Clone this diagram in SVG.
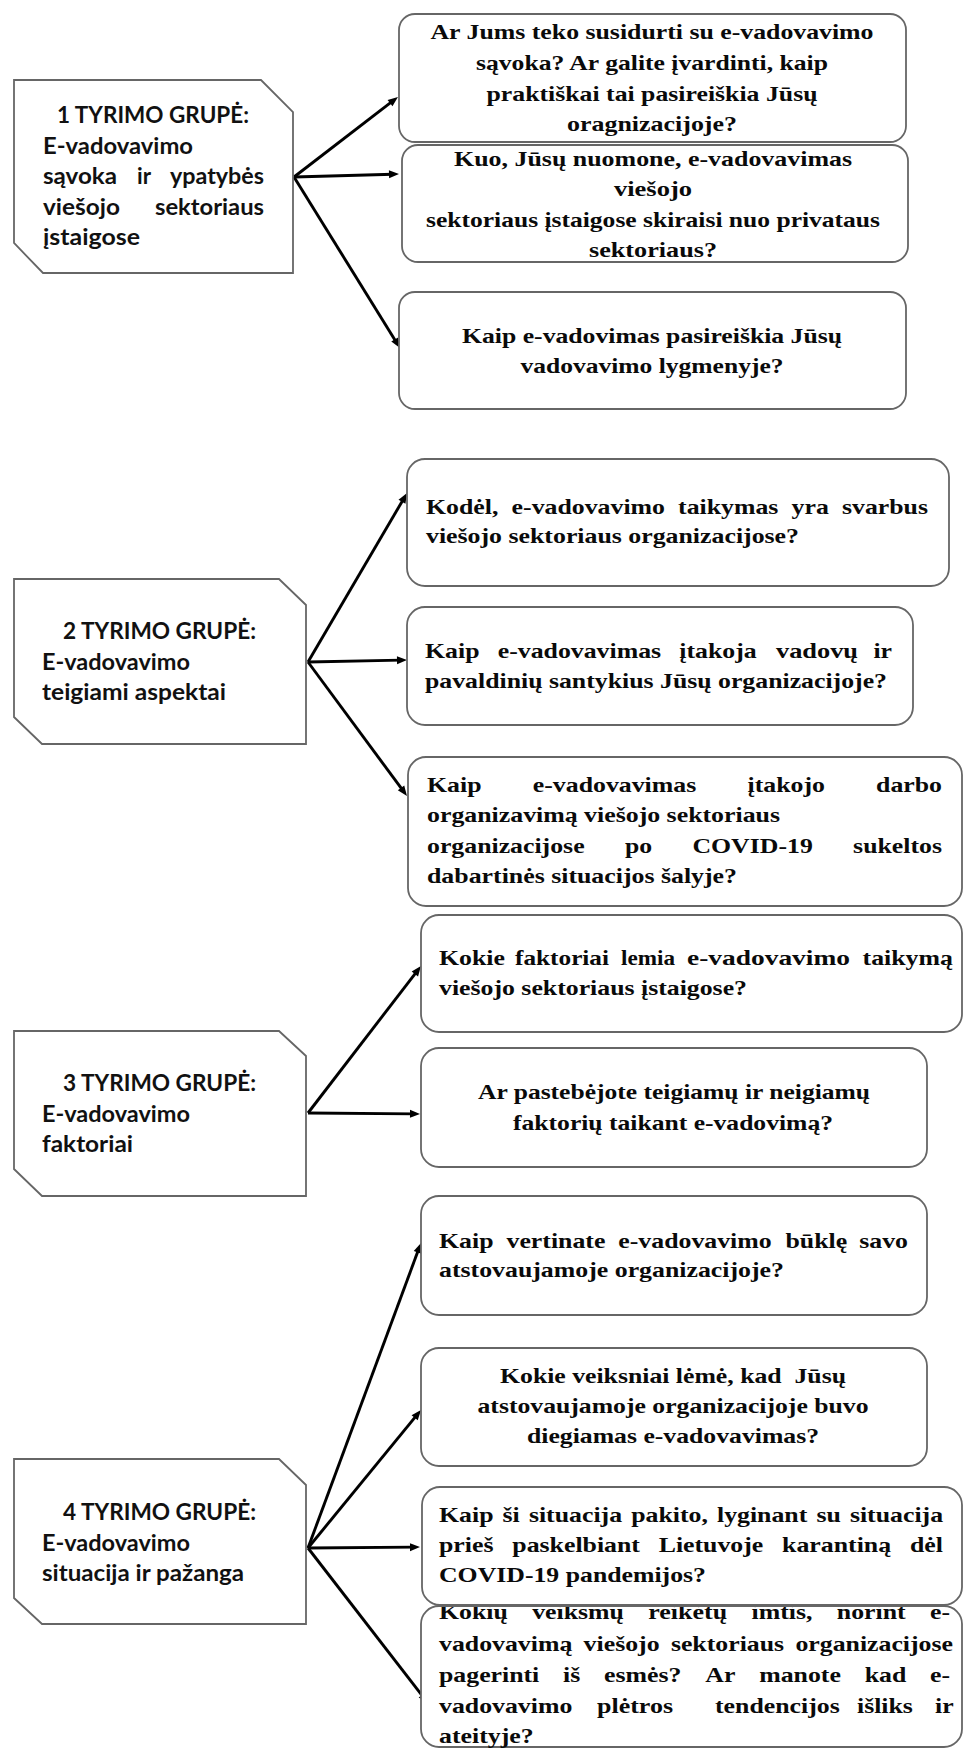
<svg xmlns="http://www.w3.org/2000/svg" width="963" height="1749" viewBox="0 0 963 1749">
<style>
.box{fill:#fff;stroke:#666;stroke-width:1.8}
.gt{font-family:Lato,"Liberation Sans",Arial,sans-serif;font-weight:bold;font-size:22px;fill:#111}
.qt{font-family:"Liberation Serif","Times New Roman",serif;font-weight:bold;font-size:21px;fill:#0a0a0a}
.m{text-anchor:middle}
.c{stroke:#000;stroke-width:2.9;fill:none;marker-end:url(#ah)}
</style>
<defs>
<marker id="ah" markerUnits="userSpaceOnUse" markerWidth="10" markerHeight="8" refX="4" refY="4" orient="auto" overflow="visible">
<path d="M0,0 L10,4 L0,8 z" fill="#000"/>
</marker>
<clipPath id="clipq12"><rect x="421" y="1607" width="541" height="142"/></clipPath>
</defs>
<rect width="963" height="1749" fill="#fff"/>

<g id="connectors">
<line class="c" x1="294" y1="177" x2="393.2" y2="100.7"/>
<line class="c" x1="294" y1="177" x2="393" y2="174.2"/>
<line class="c" x1="294" y1="177" x2="396.8" y2="342.9"/>
<line class="c" x1="308" y1="662" x2="404" y2="498.2"/>
<line class="c" x1="308" y1="662" x2="401" y2="660.1"/>
<line class="c" x1="308" y1="662" x2="403.4" y2="791.2"/>
<line class="c" x1="308" y1="1113" x2="417.3" y2="970.8"/>
<line class="c" x1="308" y1="1113" x2="414" y2="1113.9"/>
<line class="c" x1="308" y1="1548" x2="418.9" y2="1248.6"/>
<line class="c" x1="308" y1="1548" x2="417.2" y2="1414.6"/>
<line class="c" x1="308" y1="1548" x2="414" y2="1547.1"/>
<line class="c" x1="308" y1="1548" x2="424.3" y2="1698.3"/>
</g>

<g id="group1">
<polygon class="box" points="14,80 261,80 293,112 293,273 43,273 14,243"/>
<text class="gt" x="57" y="123" textLength="192" lengthAdjust="spacingAndGlyphs">1 TYRIMO GRUPĖ:</text>
<text class="gt" x="43" y="153.5" textLength="150" lengthAdjust="spacingAndGlyphs">E-vadovavimo</text>
<text class="gt" x="43" y="184" textLength="74" lengthAdjust="spacingAndGlyphs">sąvoka</text>
<text class="gt" x="137" y="184" textLength="14" lengthAdjust="spacingAndGlyphs">ir</text>
<text class="gt" x="170" y="184" textLength="94" lengthAdjust="spacingAndGlyphs">ypatybės</text>
<text class="gt" x="43" y="214.5" textLength="77" lengthAdjust="spacingAndGlyphs">viešojo</text>
<text class="gt" x="155" y="214.5" textLength="109" lengthAdjust="spacingAndGlyphs">sektoriaus</text>
<text class="gt" x="43" y="245" textLength="97" lengthAdjust="spacingAndGlyphs">įstaigose</text>
</g>

<g id="q1">
<rect class="box" x="399" y="14" width="507" height="128" rx="16"/>
<text class="qt m" x="652" y="39" textLength="443" lengthAdjust="spacingAndGlyphs">Ar Jums teko susidurti su e-vadovavimo</text>
<text class="qt m" x="652" y="70" textLength="352" lengthAdjust="spacingAndGlyphs">sąvoka? Ar galite įvardinti, kaip</text>
<text class="qt m" x="652" y="101" textLength="331" lengthAdjust="spacingAndGlyphs">praktiškai tai pasireiškia Jūsų</text>
<text class="qt m" x="652" y="131" textLength="170" lengthAdjust="spacingAndGlyphs">oragnizacijoje?</text>
</g>

<g id="q2">
<rect class="box" x="402" y="145" width="506" height="117" rx="16"/>
<text class="qt m" x="653" y="166" textLength="398" lengthAdjust="spacingAndGlyphs">Kuo, Jūsų nuomone, e-vadovavimas</text>
<text class="qt m" x="653" y="196" textLength="78" lengthAdjust="spacingAndGlyphs">viešojo</text>
<text class="qt m" x="653" y="227" textLength="454" lengthAdjust="spacingAndGlyphs">sektoriaus įstaigose skiraisi nuo privataus</text>
<text class="qt m" x="653" y="257" textLength="128" lengthAdjust="spacingAndGlyphs">sektoriaus?</text>
</g>

<g id="q3">
<rect class="box" x="399" y="292" width="507" height="117" rx="16"/>
<text class="qt m" x="652" y="343" textLength="380" lengthAdjust="spacingAndGlyphs">Kaip e-vadovimas pasireiškia Jūsų</text>
<text class="qt m" x="652" y="373" textLength="263" lengthAdjust="spacingAndGlyphs">vadovavimo lygmenyje?</text>
</g>

<g id="group2">
<polygon class="box" points="14,579 279,579 306,605 306,744 42,744 14,717"/>
<text class="gt" x="63" y="639" textLength="193" lengthAdjust="spacingAndGlyphs">2 TYRIMO GRUPĖ:</text>
<text class="gt" x="42" y="670" textLength="148" lengthAdjust="spacingAndGlyphs">E-vadovavimo</text>
<text class="gt" x="42" y="700" textLength="184" lengthAdjust="spacingAndGlyphs">teigiami aspektai</text>
</g>

<g id="q4">
<rect class="box" x="407" y="459" width="542" height="127" rx="18"/>
<text class="qt" x="426" y="514" textLength="72.4" lengthAdjust="spacingAndGlyphs">Kodėl,</text>
<text class="qt" x="511.6" y="514" textLength="153.4" lengthAdjust="spacingAndGlyphs">e-vadovavimo</text>
<text class="qt" x="678.1" y="514" textLength="100.3" lengthAdjust="spacingAndGlyphs">taikymas</text>
<text class="qt" x="791.6" y="514" textLength="37.3" lengthAdjust="spacingAndGlyphs">yra</text>
<text class="qt" x="842" y="514" textLength="86" lengthAdjust="spacingAndGlyphs">svarbus</text>
<text class="qt" x="426" y="543" textLength="373" lengthAdjust="spacingAndGlyphs">viešojo sektoriaus organizacijose?</text>
</g>

<g id="q5">
<rect class="box" x="407" y="607" width="506" height="118" rx="18"/>
<text class="qt" x="425" y="658" textLength="54.5" lengthAdjust="spacingAndGlyphs">Kaip</text>
<text class="qt" x="497.7" y="658" textLength="163.4" lengthAdjust="spacingAndGlyphs">e-vadovavimas</text>
<text class="qt" x="679.3" y="658" textLength="77.4" lengthAdjust="spacingAndGlyphs">įtakoja</text>
<text class="qt" x="776" y="658" textLength="82" lengthAdjust="spacingAndGlyphs">vadovų</text>
<text class="qt" x="873.4" y="658" textLength="18.6" lengthAdjust="spacingAndGlyphs">ir</text>
<text class="qt" x="425" y="688" textLength="462" lengthAdjust="spacingAndGlyphs">pavaldinių santykius Jūsų organizacijoje?</text>
</g>

<g id="q6">
<rect class="box" x="408" y="757" width="554" height="149" rx="18"/>
<text class="qt" x="427" y="792" textLength="54.5" lengthAdjust="spacingAndGlyphs">Kaip</text>
<text class="qt" x="532.8" y="792" textLength="163.4" lengthAdjust="spacingAndGlyphs">e-vadovavimas</text>
<text class="qt" x="747.5" y="792" textLength="77.4" lengthAdjust="spacingAndGlyphs">įtakojo</text>
<text class="qt" x="876.1" y="792" textLength="65.9" lengthAdjust="spacingAndGlyphs">darbo</text>
<text class="qt" x="427" y="822" textLength="353" lengthAdjust="spacingAndGlyphs">organizavimą viešojo sektoriaus</text>
<text class="qt" x="427" y="853" textLength="157.6" lengthAdjust="spacingAndGlyphs">organizacijose</text>
<text class="qt" x="624.9" y="853" textLength="27.2" lengthAdjust="spacingAndGlyphs">po</text>
<text class="qt" x="692.4" y="853" textLength="120.4" lengthAdjust="spacingAndGlyphs">COVID-19</text>
<text class="qt" x="853.1" y="853" textLength="88.9" lengthAdjust="spacingAndGlyphs">sukeltos</text>
<text class="qt" x="427" y="883" textLength="310" lengthAdjust="spacingAndGlyphs">dabartinės situacijos šalyje?</text>
</g>

<g id="group3">
<polygon class="box" points="14,1031 279,1031 306,1056 306,1196 42,1196 14,1169"/>
<text class="gt" x="63" y="1091" textLength="193" lengthAdjust="spacingAndGlyphs">3 TYRIMO GRUPĖ:</text>
<text class="gt" x="42" y="1122" textLength="148" lengthAdjust="spacingAndGlyphs">E-vadovavimo</text>
<text class="gt" x="42" y="1152" textLength="91" lengthAdjust="spacingAndGlyphs">faktoriai</text>
</g>

<g id="q7">
<rect class="box" x="421" y="915" width="541" height="117" rx="18"/>
<text class="qt" x="439" y="965" textLength="65.9" lengthAdjust="spacingAndGlyphs">Kokie</text>
<text class="qt" x="515" y="965" textLength="94" lengthAdjust="spacingAndGlyphs">faktoriai</text>
<text class="qt" x="621" y="965" textLength="54" lengthAdjust="spacingAndGlyphs">lemia</text>
<text class="qt" x="687" y="965" textLength="163" lengthAdjust="spacingAndGlyphs">e-vadovavimo</text>
<text class="qt" x="862.6" y="965" textLength="90.3" lengthAdjust="spacingAndGlyphs">taikymą</text>
<text class="qt" x="439" y="995" textLength="308" lengthAdjust="spacingAndGlyphs">viešojo sektoriaus įstaigose?</text>
</g>

<g id="q8">
<rect class="box" x="421" y="1048" width="506" height="119" rx="18"/>
<text class="qt m" x="674" y="1099" textLength="392" lengthAdjust="spacingAndGlyphs">Ar pastebėjote teigiamų ir neigiamų</text>
<text class="qt m" x="673" y="1130" textLength="320" lengthAdjust="spacingAndGlyphs">faktorių taikant e-vadovimą?</text>
</g>

<g id="group4">
<polygon class="box" points="14,1459 279,1459 306,1485 306,1624 42,1624 14,1598"/>
<text class="gt" x="63" y="1520" textLength="193" lengthAdjust="spacingAndGlyphs">4 TYRIMO GRUPĖ:</text>
<text class="gt" x="42" y="1551" textLength="148" lengthAdjust="spacingAndGlyphs">E-vadovavimo</text>
<text class="gt" x="42" y="1581" textLength="202" lengthAdjust="spacingAndGlyphs">situacija ir pažanga</text>
</g>

<g id="q9">
<rect class="box" x="421" y="1196" width="506" height="119" rx="18"/>
<text class="qt" x="439" y="1248" textLength="54.5" lengthAdjust="spacingAndGlyphs">Kaip</text>
<text class="qt" x="506.5" y="1248" textLength="98.9" lengthAdjust="spacingAndGlyphs">vertinate</text>
<text class="qt" x="618.3" y="1248" textLength="153.4" lengthAdjust="spacingAndGlyphs">e-vadovavimo</text>
<text class="qt" x="785.5" y="1248" textLength="61.7" lengthAdjust="spacingAndGlyphs">būklę</text>
<text class="qt" x="859.3" y="1248" textLength="48.7" lengthAdjust="spacingAndGlyphs">savo</text>
<text class="qt" x="439" y="1277" textLength="345" lengthAdjust="spacingAndGlyphs">atstovaujamoje organizacijoje?</text>
</g>

<g id="q10">
<rect class="box" x="421" y="1348" width="506" height="118" rx="18"/>
<text class="qt m" x="673" y="1383" textLength="346" lengthAdjust="spacingAndGlyphs" xml:space="preserve">Kokie veiksniai lėmė, kad  Jūsų</text>
<text class="qt m" x="673" y="1413" textLength="391" lengthAdjust="spacingAndGlyphs">atstovaujamoje organizacijoje buvo</text>
<text class="qt m" x="673" y="1443" textLength="292" lengthAdjust="spacingAndGlyphs">diegiamas e-vadovavimas?</text>
</g>

<g id="q11">
<rect class="box" x="422" y="1487" width="540" height="118" rx="18"/>
<text class="qt" x="439" y="1522" textLength="54.5" lengthAdjust="spacingAndGlyphs">Kaip</text>
<text class="qt" x="502.6" y="1522" textLength="17.2" lengthAdjust="spacingAndGlyphs">ši</text>
<text class="qt" x="528.9" y="1522" textLength="93.2" lengthAdjust="spacingAndGlyphs">situacija</text>
<text class="qt" x="631.2" y="1522" textLength="76.7" lengthAdjust="spacingAndGlyphs">pakito,</text>
<text class="qt" x="717" y="1522" textLength="90.3" lengthAdjust="spacingAndGlyphs">lyginant</text>
<text class="qt" x="816.4" y="1522" textLength="24.4" lengthAdjust="spacingAndGlyphs">su</text>
<text class="qt" x="849.9" y="1522" textLength="93.2" lengthAdjust="spacingAndGlyphs">situacija</text>
<text class="qt" x="439" y="1552" textLength="54.5" lengthAdjust="spacingAndGlyphs">prieš</text>
<text class="qt" x="512.3" y="1552" textLength="127.6" lengthAdjust="spacingAndGlyphs">paskelbiant</text>
<text class="qt" x="658.7" y="1552" textLength="104.6" lengthAdjust="spacingAndGlyphs">Lietuvoje</text>
<text class="qt" x="782.1" y="1552" textLength="109" lengthAdjust="spacingAndGlyphs">karantiną</text>
<text class="qt" x="909.9" y="1552" textLength="33" lengthAdjust="spacingAndGlyphs">dėl</text>
<text class="qt" x="439" y="1582" textLength="267" lengthAdjust="spacingAndGlyphs">COVID-19 pandemijos?</text>
</g>

<g id="q12">
<rect class="box" x="421" y="1606" width="541" height="141" rx="18"/>
<g clip-path="url(#clipq12)">
<text class="qt" x="439" y="1619" textLength="68.8" lengthAdjust="spacingAndGlyphs">Kokių</text>
<text class="qt" x="532.2" y="1619" textLength="91.7" lengthAdjust="spacingAndGlyphs">veiksmų</text>
<text class="qt" x="648.3" y="1619" textLength="78.8" lengthAdjust="spacingAndGlyphs">reikėtų</text>
<text class="qt" x="751.5" y="1619" textLength="60.9" lengthAdjust="spacingAndGlyphs">imtis,</text>
<text class="qt" x="836.8" y="1619" textLength="68.8" lengthAdjust="spacingAndGlyphs">norint</text>
<text class="qt" x="930" y="1619" textLength="20" lengthAdjust="spacingAndGlyphs">e-</text>
<text class="qt" x="439" y="1651" textLength="133.3" lengthAdjust="spacingAndGlyphs">vadovavimą</text>
<text class="qt" x="583.6" y="1651" textLength="76" lengthAdjust="spacingAndGlyphs">viešojo</text>
<text class="qt" x="670.9" y="1651" textLength="113.2" lengthAdjust="spacingAndGlyphs">sektoriaus</text>
<text class="qt" x="795.4" y="1651" textLength="157.6" lengthAdjust="spacingAndGlyphs">organizacijose</text>
<text class="qt" x="439" y="1682" textLength="100.3" lengthAdjust="spacingAndGlyphs">pagerinti</text>
<text class="qt" x="563.1" y="1682" textLength="17.2" lengthAdjust="spacingAndGlyphs">iš</text>
<text class="qt" x="604.1" y="1682" textLength="77.4" lengthAdjust="spacingAndGlyphs">esmės?</text>
<text class="qt" x="705.3" y="1682" textLength="30.1" lengthAdjust="spacingAndGlyphs">Ar</text>
<text class="qt" x="759.2" y="1682" textLength="81.7" lengthAdjust="spacingAndGlyphs">manote</text>
<text class="qt" x="864.7" y="1682" textLength="41.6" lengthAdjust="spacingAndGlyphs">kad</text>
<text class="qt" x="930.1" y="1682" textLength="20" lengthAdjust="spacingAndGlyphs">e-</text>
<text class="qt" x="439" y="1713" textLength="133.3" lengthAdjust="spacingAndGlyphs">vadovavimo</text>
<text class="qt" x="597" y="1713" textLength="76" lengthAdjust="spacingAndGlyphs">plėtros</text>
<text class="qt" x="715" y="1713" textLength="124.7" lengthAdjust="spacingAndGlyphs">tendencijos</text>
<text class="qt" x="857" y="1713" textLength="55.9" lengthAdjust="spacingAndGlyphs">išliks</text>
<text class="qt" x="935" y="1713" textLength="18.6" lengthAdjust="spacingAndGlyphs">ir</text>
<text class="qt" x="439" y="1743" textLength="94.6" lengthAdjust="spacingAndGlyphs">ateityje?</text>
</g>
</g>
</svg>
